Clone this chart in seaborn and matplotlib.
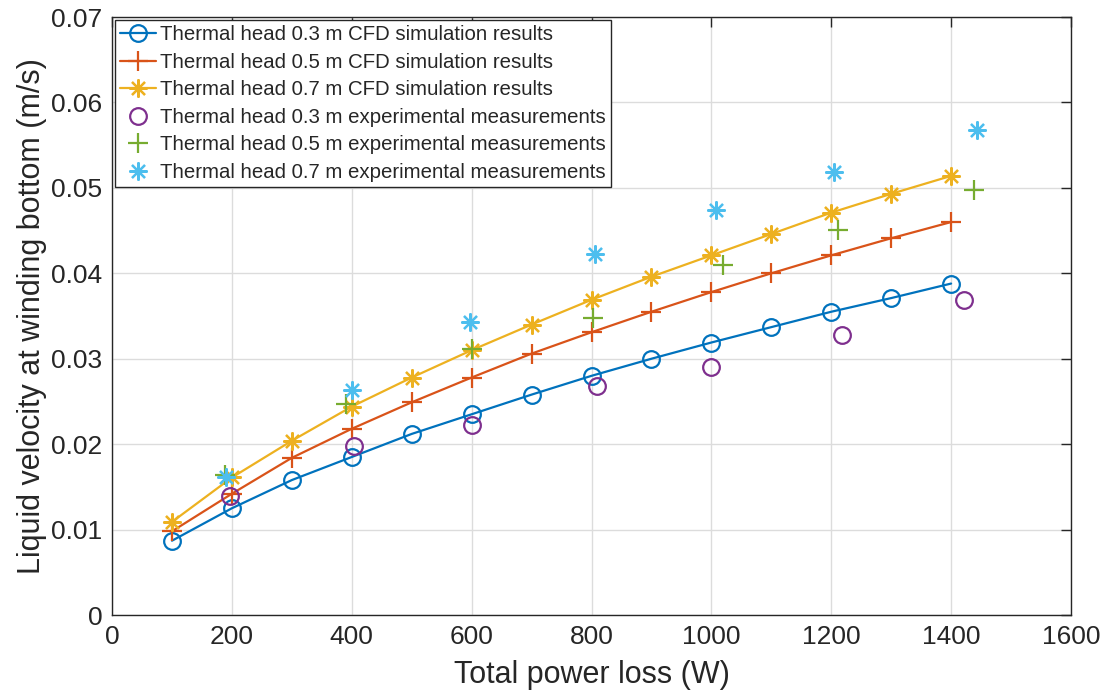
import matplotlib
matplotlib.use("Agg")
import matplotlib.pyplot as plt
import seaborn as sns
import numpy as np

# CFD simulation results (power loss in W, velocity in m/s)
power_cfd = [100, 200, 300, 400, 500, 600, 700, 800, 900, 1000, 1100, 1200, 1300, 1400]
cfd_03 = [0.0087, 0.0125, 0.0158, 0.0185, 0.0212, 0.0235, 0.0258, 0.0280, 0.0300, 0.0319,
          0.0337, 0.0355, 0.0371, 0.0388]
cfd_05 = [0.0098, 0.0142, 0.0184, 0.0218, 0.0249, 0.0278, 0.0306, 0.0331, 0.0355, 0.0378,
          0.0400, 0.0421, 0.0441, 0.0460]
cfd_07 = [0.0109, 0.0161, 0.0204, 0.0244, 0.0278, 0.0310, 0.0340, 0.0369, 0.0396, 0.0421,
          0.0446, 0.0471, 0.0493, 0.0514]

# experimental measurements
power_exp_03 = [197, 403, 600, 810, 1000, 1218, 1421]
exp_03 = [0.0139, 0.0198, 0.0222, 0.0268, 0.0290, 0.0328, 0.0369]
power_exp_05 = [188, 390, 600, 802, 1020, 1211, 1438]
exp_05 = [0.0164, 0.0247, 0.0311, 0.0348, 0.0410, 0.0451, 0.0498]
power_exp_07 = [190, 400, 598, 805, 1007, 1204, 1443]
exp_07 = [0.0161, 0.0263, 0.0343, 0.0423, 0.0474, 0.0519, 0.0568]

labels = [
    "Thermal head 0.3 m CFD simulation results",
    "Thermal head 0.5 m CFD simulation results",
    "Thermal head 0.7 m CFD simulation results",
    "Thermal head 0.3 m experimental measurements",
    "Thermal head 0.5 m experimental measurements",
    "Thermal head 0.7 m experimental measurements",
]
colors = ["#0072BD", "#D95319", "#EDB120", "#7E2F8E", "#77AC30", "#4DBEEE"]
asterisk = (8, 2, 0)

sns.set_style("whitegrid")
plt.rcParams["font.family"] = ["Liberation Sans", "DejaVu Sans"]

fig = plt.figure(figsize=(11.05, 6.97), dpi=100)
ax = fig.add_axes([0.1014, 0.1176, 0.8678, 0.858])

# CFD lines with markers
sns.lineplot(x=power_cfd, y=cfd_03, ax=ax, color=colors[0], lw=1.6, marker="o",
             markersize=12, markerfacecolor="none", markeredgecolor=colors[0],
             markeredgewidth=1.6, label=labels[0])
sns.lineplot(x=power_cfd, y=cfd_05, ax=ax, color=colors[1], lw=1.6, marker="+",
             markersize=14, markeredgewidth=1.6, markeredgecolor=colors[1], label=labels[1])
sns.lineplot(x=power_cfd, y=cfd_07, ax=ax, color=colors[2], lw=1.6, marker=asterisk,
             markersize=13, markeredgewidth=1.6, markeredgecolor=colors[2], label=labels[2])

# experimental points, markers only
sns.lineplot(x=power_exp_03, y=exp_03, ax=ax, color=colors[3], linestyle="none", marker="o",
             markersize=12, markerfacecolor="none", markeredgecolor=colors[3],
             markeredgewidth=1.6, label=labels[3])
sns.lineplot(x=power_exp_05, y=exp_05, ax=ax, color=colors[4], linestyle="none", marker="+",
             markersize=14, markeredgewidth=1.6, markeredgecolor=colors[4], label=labels[4])
sns.lineplot(x=power_exp_07, y=exp_07, ax=ax, color=colors[5], linestyle="none", marker=asterisk,
             markersize=13, markeredgewidth=1.6, markeredgecolor=colors[5], label=labels[5])

ax.set_xlim(0, 1600)
ax.set_ylim(0, 0.07)
ax.set_xticks(np.arange(0, 1601, 200))
ax.set_yticks(np.arange(0, 0.0701, 0.01))
ax.set_yticklabels(["0", "0.01", "0.02", "0.03", "0.04", "0.05", "0.06", "0.07"])
ax.grid(True, color="#dcdcdc", lw=1)
for s in ax.spines.values():
    s.set_color("#262626")
    s.set_linewidth(1)
ax.tick_params(direction="in", length=7, width=1, top=True, right=True,
               colors="#262626", labelcolor="#262626", labelsize=19, pad=7)

ax.set_xlabel("Total power loss (W)", fontsize=22, color="#262626", labelpad=8)
ax.set_ylabel("Liquid velocity at winding bottom (m/s)", fontsize=22, color="#262626", labelpad=3)

leg = ax.legend(loc="upper left", fontsize=14.7, frameon=True, fancybox=False,
                edgecolor="#262626", framealpha=1, borderaxespad=0.15, handlelength=1.75,
                handletextpad=0.2, labelspacing=0.42, borderpad=0.25)
leg.get_frame().set_linewidth(1)

fig.savefig("out.png", dpi=100)
